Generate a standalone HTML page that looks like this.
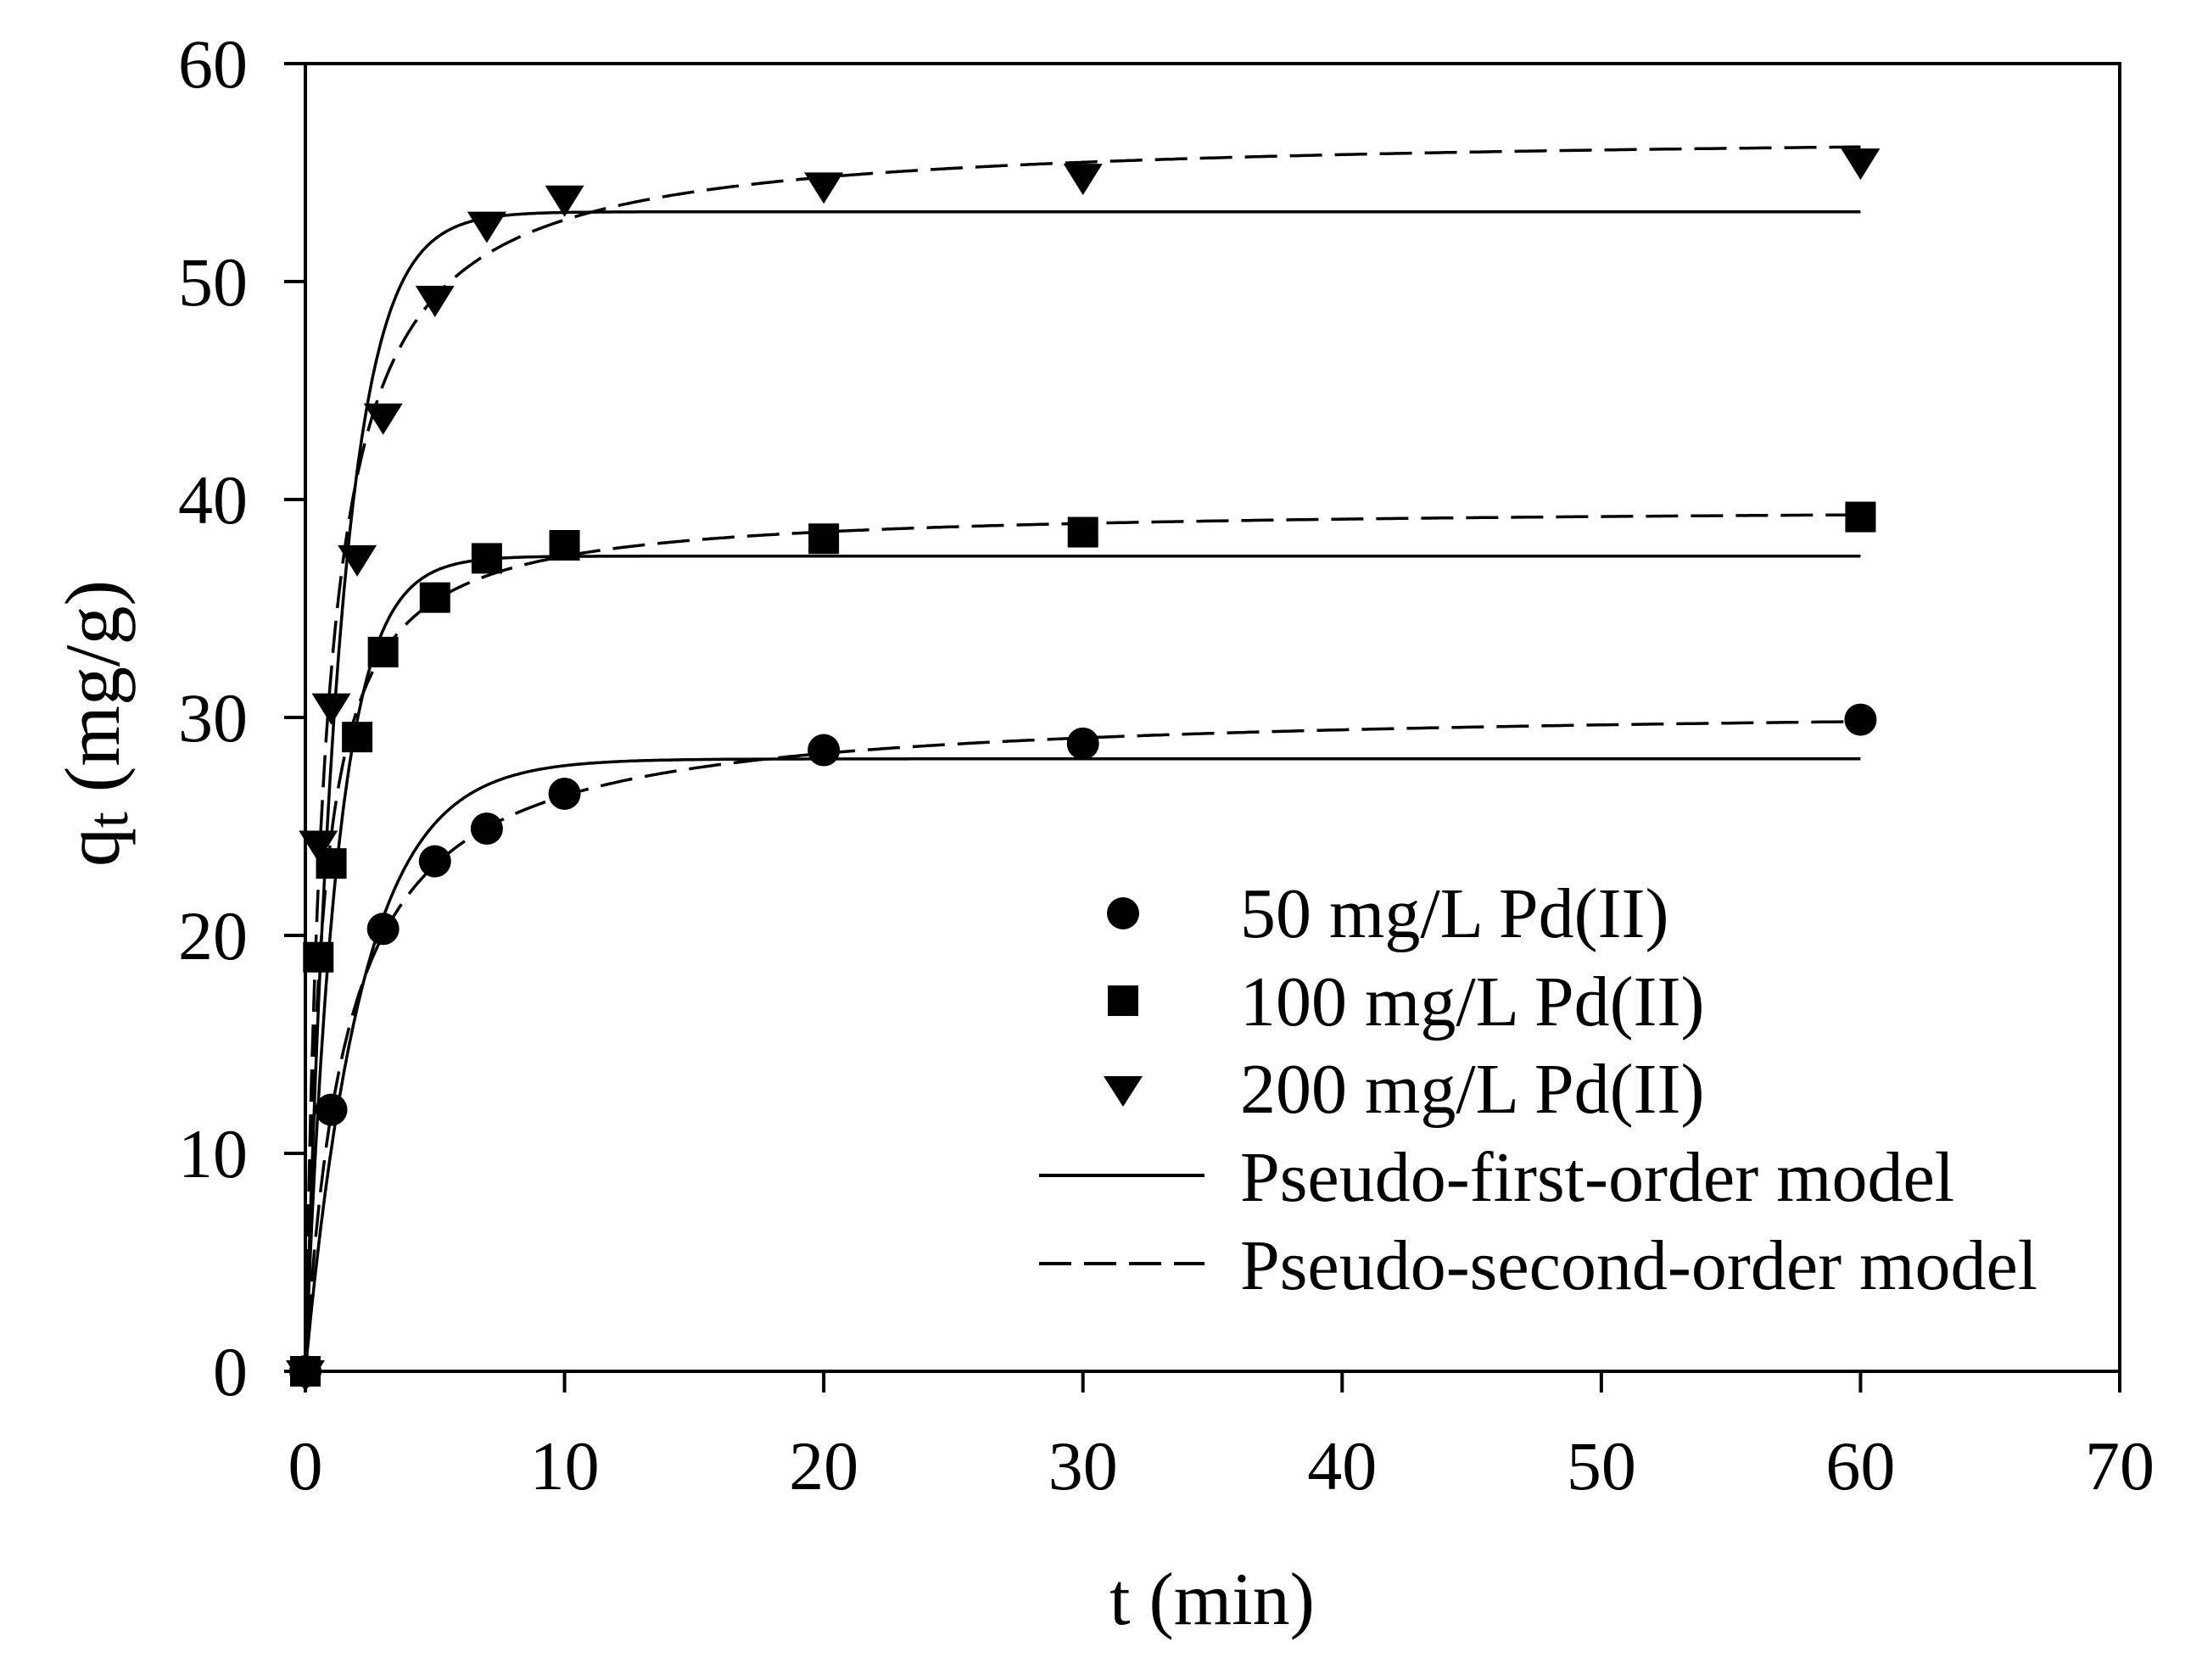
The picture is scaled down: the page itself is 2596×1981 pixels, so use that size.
<!DOCTYPE html>
<html><head><meta charset="utf-8"><style>
html,body{margin:0;padding:0;background:#fff;}
svg{display:block;}
text{font-family:"Liberation Serif",serif;fill:#000;}
</style></head><body>
<svg id="chart" width="2596" height="1981" viewBox="0 0 2596 1981" xmlns="http://www.w3.org/2000/svg">
<rect width="2596" height="1981" fill="#fff"/>
<g id="plot"></g>
<g id="axes"></g>
<text x="1429" y="1915" font-size="88" text-anchor="middle">t (min)</text>
<text transform="translate(140,853) rotate(-90)" font-size="92" text-anchor="middle">q<tspan font-size="68" dy="10">t</tspan><tspan dy="-10"> (mg/g)</tspan></text>
<g>
<circle cx="1324" cy="1077" r="19" fill="#000"/>
<text x="1462" y="1105" font-size="84">50 mg/L Pd(II)</text>
<rect x="1306" y="1162" width="36" height="36" fill="#000"/>
<text x="1462" y="1209" font-size="84">100 mg/L Pd(II)</text>
<polygon points="1301,1269 1347,1269 1324,1305" fill="#000"/>
<text x="1462" y="1312" font-size="84">200 mg/L Pd(II)</text>
<line x1="1225" y1="1386" x2="1420" y2="1386" stroke="#000" stroke-width="4"/>
<text x="1462" y="1416" font-size="84">Pseudo-first-order model</text>
<line x1="1225" y1="1490" x2="1420" y2="1490" stroke="#000" stroke-width="4" stroke-dasharray="38 15"/>
<text x="1462" y="1520" font-size="84">Pseudo-second-order model</text>
</g>
</svg>
<script>
const xTicks = [0,10,20,30,40,50,60,70];
const yTicks = [0,10,20,30,40,50,60];
const t50 = [0,1,3,5,7,10,20,30,60];
const q50 = [0,12,20.3,23.4,24.9,26.5,28.5,28.8,29.9];
const t100 = [0,0.5,1,2,3,5,7,10,20,30,60];
const q100 = [0,19,23.3,29.1,33,35.5,37.3,37.9,38.2,38.5,39.2];
const t200 = [0,0.5,1,2,3,5,7,10,20,30,60];
const q200 = [0,24.3,30.6,37.4,43.9,49.3,52.7,53.9,54.5,54.9,55.6];
const pfoQe = [28.1,37.4,53.2];
const pfoK = [0.45,0.8,0.75];
const psoQe = [30.6,39.7,56.9];
const psoK = [0.0206,0.041,0.0228];
const NS='http://www.w3.org/2000/svg';
const X0=360,X1=2499,Y0=1617,Y1=75;
function sx(v){return X0+(v-0)/(70-0)*(X1-X0);}
function sy(v){return Y0-(v-0)/(60-0)*(Y0-Y1);}
function mk(tag,attrs,parent){const e=document.createElementNS(NS,tag);for(const k in attrs)e.setAttribute(k,attrs[k]);parent.appendChild(e);return e;}
const axes=document.getElementById('axes'),plot=document.getElementById('plot');
let fr=mk('rect',{x:X0,y:Y1,width:X1-X0,height:Y0-Y1,fill:'none',stroke:'#000','stroke-width':4},axes);


xTicks.forEach(v=>{
  let l=mk('line',{x1:sx(v),x2:sx(v),y1:Y0,y2:Y0+25,stroke:'#000','stroke-width':4},axes);
  
  
  let t=mk('text',{x:sx(v),y:1756,'font-size':82,'text-anchor':'middle'},axes);
  t.textContent=v;
  
  
});
yTicks.forEach(v=>{
  let l=mk('line',{x1:X0-25,x2:X0,y1:sy(v),y2:sy(v),stroke:'#000','stroke-width':4},axes);
  
  
  let t=mk('text',{x:292,y:sy(v)+28,'font-size':82,'text-anchor':'end'},axes);
  t.textContent=v;
  
  
});
const names=['50','100','200'];
for(let i=0;i<3;i++){
  let d1='',d2='';
  for(let s=0;s<=600;s++){
    const t=s<200? s*0.05 : 10+(s-200)*0.125;
    const q1=pfoQe[i]*(1-Math.exp(-pfoK[i]*t));
    const a=psoQe[i]*psoK[i]*t;
    const q2=psoQe[i]*a/(1+a);
    d1+=(s?'L':'M')+sx(t).toFixed(1)+','+sy(q1).toFixed(1);
    d2+=(s?'L':'M')+sx(t).toFixed(1)+','+sy(q2).toFixed(1);
  }
  let p1=mk('path',{d:d1,fill:'none',stroke:'#000','stroke-width':3.5},plot);
  
  
  let p2=mk('path',{d:d2,fill:'none',stroke:'#000','stroke-width':3.5,'stroke-dasharray':'38 15'},plot);
  
  
}
t50.forEach((t,j)=>{
  let c=mk('circle',{cx:sx(t),cy:sy(q50[j]),r:19,fill:'#000'},plot);
  
  
});
t100.forEach((t,j)=>{
  let r=mk('rect',{x:sx(t)-18,y:sy(q100[j])-18,width:36,height:36,fill:'#000'},plot);
  
  
});
t200.forEach((t,j)=>{
  const x=sx(t),y=sy(q200[j]);
  let p=mk('polygon',{points:(x-23)+','+(y-13)+' '+(x+23)+','+(y-13)+' '+x+','+(y+24),fill:'#000'},plot);
  
  
});
</script>
</body></html>
